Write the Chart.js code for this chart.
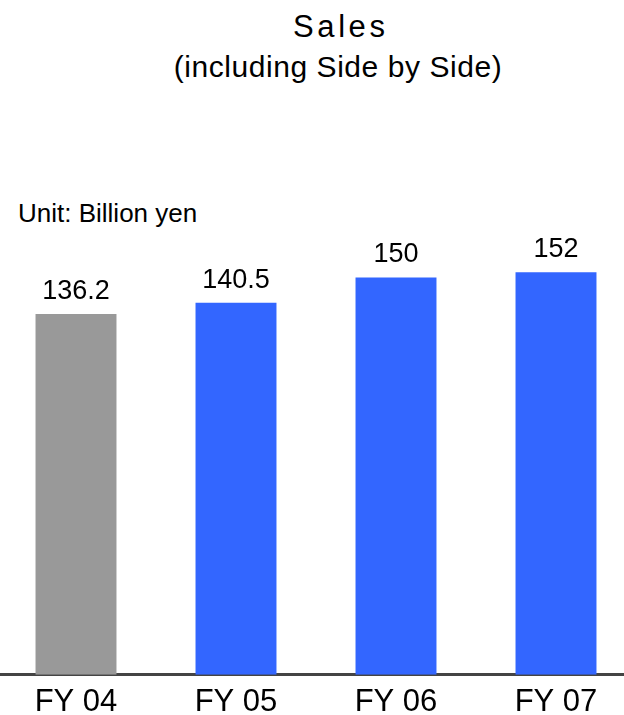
<!DOCTYPE html>
<html>
<head>
<meta charset="utf-8">
<script src="https://cdn.jsdelivr.net/npm/chart.js@4.4.1/dist/chart.umd.min.js"></script>
<style>
  html, body { margin: 0; padding: 0; background: #fff; }
  body { width: 624px; height: 715px; overflow: hidden; position: relative; font-family: "Liberation Sans", Arial, sans-serif; color: #000; }
  .txt { position: absolute; white-space: nowrap; line-height: 1; }
  #t1 { top: 11px; left: 0; width: 678px; text-align: center; font-size: 31px; letter-spacing: 3.6px; padding-left: 3.6px; box-sizing: border-box; }
  #t2 { top: 52px; left: 0; width: 676px; text-align: center; font-size: 30px; letter-spacing: 0.55px; }
  #unit { top: 200px; left: 18px; font-size: 26px; }
  #wrap { position: absolute; left: -4px; top: 0; width: 640px; height: 736px; }
</style>
</head>
<body>
<div class="txt" id="t1">Sales</div>
<div class="txt" id="t2">(including Side by Side)</div>
<div class="txt" id="unit">Unit: Billion yen</div>
<div id="wrap"><canvas id="chart"></canvas></div>
<script>
const years = ['FY 04', 'FY 05', 'FY 06', 'FY 07'];
const sales = [136.2, 140.5, 150, 152];
const barColors = ['#999999', '#3366ff', '#3366ff', '#3366ff'];

// numbers above each bar
const valueLabels = {
    id: 'valueLabels',
    afterDatasetsDraw(chart) {
        const ctx = chart.ctx;
        const meta = chart.getDatasetMeta(0);
        ctx.save();
        ctx.font = '27px "Liberation Sans", Arial, sans-serif';
        ctx.fillStyle = '#000';
        ctx.textAlign = 'center';
        ctx.textBaseline = 'alphabetic';
        meta.data.forEach((bar, i) => {
            ctx.fillText(String(sales[i]), bar.x, bar.y - 15);
        });
        ctx.restore();
    }
};

function init(){
    const ctx = document.getElementById('chart').getContext('2d');
    new Chart(ctx, {
        type: 'bar',
        data: {
            labels: years,
            datasets: [{
                data: sales,
                backgroundColor: barColors,
                borderWidth: 0,
                barPercentage: 0.506,
                categoryPercentage: 1
            }]
        },
        options: {
            responsive: true,
            maintainAspectRatio: false,
            animation: false,
            layout: { padding: { top: 251, bottom: 6, left: 0, right: 0 } },
            plugins: {
                legend: { display: false },
                tooltip: { enabled: false },
                title: { display: false }
            },
            scales: {
                x: {
                    grid: { display: false, drawTicks: false },
                    border: { display: true, color: '#444444', width: 3 },
                    ticks: {
                        color: '#000',
                        padding: 9,
                        font: { family: '"Liberation Sans", Arial, sans-serif', size: 31 }
                    }
                },
                y: {
                    display: false,
                    min: 0,
                    max: 160
                }
            }
        },
        plugins: [valueLabels]
    });
}
init();
</script>
</body>
</html>
